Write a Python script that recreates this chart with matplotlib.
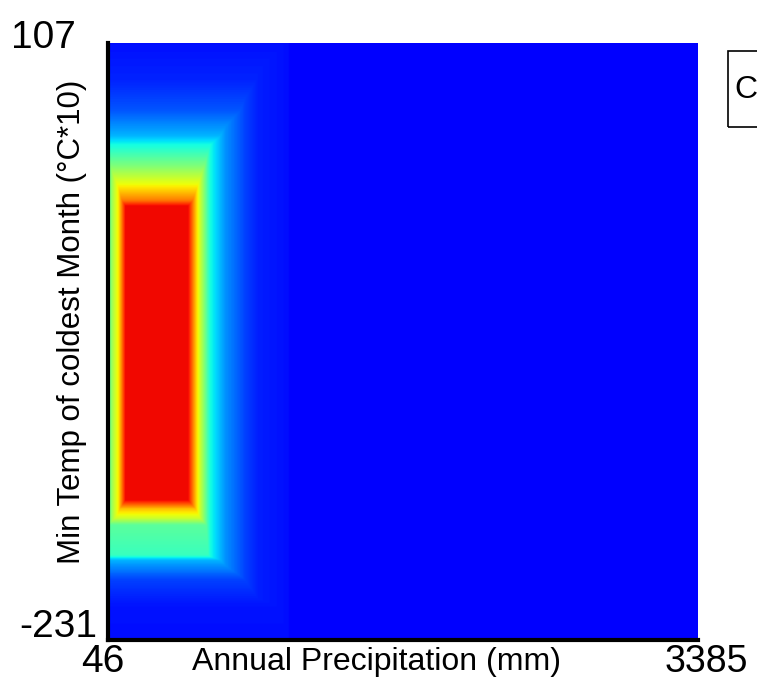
import matplotlib.pyplot as plt
import numpy as np
from matplotlib.patches import Rectangle

plt.rcParams['font.family'] = ['Liberation Sans', 'DejaVu Sans']

# axis ranges
precip_range = [46, 3385]
temp_range = [-231, 107]

# response along annual precipitation (mm)
precip_knots = [46, 69, 103, 142, 499, 555, 623, 708, 821, 895, 1065, 1076, 3385]
precip_resp = [0.45, 0.55, 0.66, 0.9, 0.9, 0.64, 0.38, 0.27, 0.19, 0.155, 0.138, 0.125, 0.125]

# response along min temp of coldest month (degC*10)
temp_knots = [-231, -211, -197, -186, -183, -166, -162, -157, -152, 15, 18, 27, 38, 50, 55, 69, 86, 107]
temp_resp = [0.137, 0.145, 0.19, 0.3, 0.42, 0.46, 0.6, 0.7, 0.9, 0.9, 0.78, 0.64, 0.5, 0.37, 0.3, 0.21, 0.16, 0.14]

xs = np.linspace(precip_range[0], precip_range[1], 800)
ys = np.linspace(temp_range[0], temp_range[1], 800)
fx = np.interp(xs, precip_knots, precip_resp)
fy = np.interp(ys, temp_knots, temp_resp)
surface = np.minimum(fx[None, :], fy[:, None])

fig = plt.figure(figsize=(7.57, 6.79), dpi=100)
ax = fig.add_axes([108 / 757, 1 - 640 / 679, 590 / 757, 597 / 679])
ax.imshow(surface, origin='lower', cmap='jet', vmin=0, vmax=1,
          extent=[precip_range[0], precip_range[1], temp_range[0], temp_range[1]],
          aspect='auto', interpolation='bilinear')
ax.set_xlim(precip_range)
ax.set_ylim(temp_range)

for s in ['top', 'right']:
    ax.spines[s].set_visible(False)
for s in ['left', 'bottom']:
    ax.spines[s].set_linewidth(3)
ax.set_xticks([])
ax.set_yticks([])

# end labels instead of ticks
fig.text(76 / 757, 1 - 38 / 679, str(temp_range[1]), ha='right', va='center', fontsize=28)
fig.text(97 / 757, 1 - 627 / 679, str(temp_range[0]), ha='right', va='center', fontsize=28)
fig.text(103 / 757, 1 - 662 / 679, str(precip_range[0]), ha='center', va='center', fontsize=28)
fig.text(706 / 757, 1 - 662 / 679, str(precip_range[1]), ha='center', va='center', fontsize=27)
fig.text(376 / 757, 1 - 662 / 679, 'Annual Precipitation (mm)', ha='center', va='center', fontsize=23)
fig.text(72 / 757, 1 - 322 / 679, 'Min Temp of coldest Month (°C*10)', ha='center', va='center',
         rotation=90, fontsize=22.5)

# legend box running off the right edge
fig.patches.append(Rectangle((728 / 757, 1 - 127 / 679), 0.1, 76 / 679, transform=fig.transFigure,
                             fill=False, edgecolor='black', linewidth=1.2))
fig.text(734 / 757, 1 - 90 / 679, 'C', ha='left', va='center', fontsize=23)

fig.savefig('out.png', dpi=100)
